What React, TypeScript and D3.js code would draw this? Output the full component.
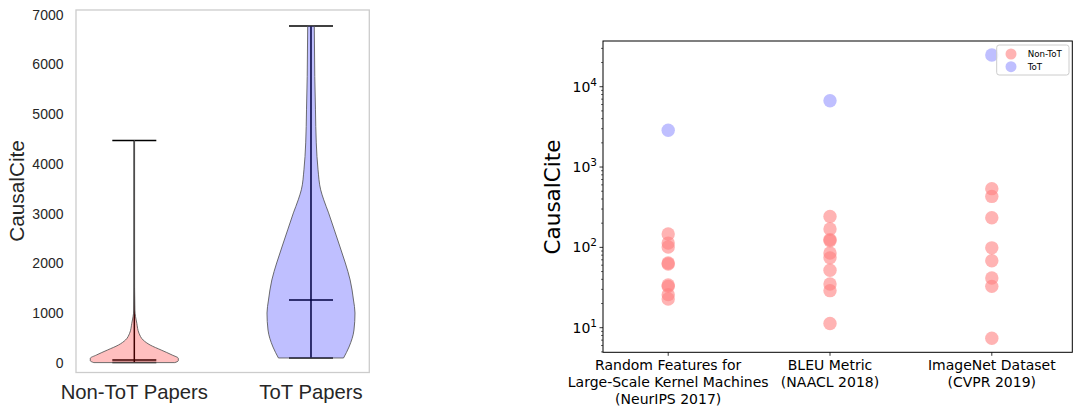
import React from "react";
import * as d3 from "d3";

// ---------- Left panel data (violin) ----------
const violinCats = ["Non-ToT Papers", "ToT Papers"];
const violinTicks = [0, 1000, 2000, 3000, 4000, 5000, 6000, 7000];
// density profiles (value, relative width)
const nonTotProfileValues = [2, 40, 88, 155, 255, 356, 457, 592, 793, 1060, 1500, 4470];
const nonTotProfileDensity = [0.92, 1.0, 1.0, 0.86, 0.61, 0.36, 0.2, 0.107, 0.057, 0.012, 0.005, 0.002];
const totProfileValues = [95, 316, 658, 1000, 1261, 1664, 2006, 2328, 2672, 3014, 3276, 3477, 3879, 4422, 5086, 5755, 6774];
const totProfileDensity = [0.74, 0.864, 0.977, 1.0, 0.966, 0.89, 0.78, 0.66, 0.53, 0.4, 0.29, 0.22, 0.16, 0.12, 0.102, 0.086, 0.075];
const violinMin = [2, 95];
const violinMedian = [54, 1261];
const violinMax = [4470, 6774];

// ---------- Right panel data (log scatter) ----------
const scatterCats = [
  ["Random Features for", "Large-Scale Kernel Machines", "(NeurIPS 2017)"],
  ["BLEU Metric", "(NAACL 2018)"],
  ["ImageNet Dataset", "(CVPR 2019)"],
];
const nonTotCat1 = [147, 113, 101, 64, 62, 34, 32.7, 25.8, 22.8];
const nonTotCat2 = [243, 169, 125, 121, 85, 74, 52, 35, 28.9, 11.3];
const nonTotCat3 = [538, 431, 234, 98.6, 68, 41.6, 32.7, 7.4];
const totValues = [2870, 6700, 24800];
const logMajorTicks = [10, 100, 1000, 10000];
const legendLabels = ["Non-ToT", "ToT"];

const W = 1074;
const H = 406;

const LEFT_FONT = "'Liberation Sans', Arial, sans-serif";
const RIGHT_FONT = "'DejaVu Sans', sans-serif";

function Violins() {
  const yL = d3.scaleLinear().domain([-197, 7095]).range([372.5, 10]);
  const xL = d3.scaleLinear().domain([-0.33, 1.33]).range([76, 369.3]);
  const wL = d3.scaleLinear().domain([0, 1]).range([0, 44]);
  const profiles = [
    nonTotProfileValues.map((v, i) => [v, nonTotProfileDensity[i]] as [number, number]),
    totProfileValues.map((v, i) => [v, totProfileDensity[i]] as [number, number]),
  ];
  const fills = ["#ff0000", "#0000ff"];
  return (
    <g fontFamily={LEFT_FONT}>
      <rect x={76} y={10} width={293.3} height={362.5} fill="none" stroke="#cccccc" strokeWidth={1.3} />
      {violinTicks.map((t) => (
        <text key={t} x={63.5} y={yL(t)} textAnchor="end" dominantBaseline="central" fontSize={14} fill="#262626">
          {t}
        </text>
      ))}
      <text
        transform={`translate(16,191) rotate(-90)`}
        textAnchor="middle"
        dominantBaseline="central"
        fontSize={20.8}
        fill="#262626"
      >
        CausalCite
      </text>
      {violinCats.map((c, i) => {
        const cx = xL(i);
        const area = d3
          .area<[number, number]>()
          .y((d) => yL(d[0]))
          .x0((d) => cx - wL(d[1]))
          .x1((d) => cx + wL(d[1]))
          .curve(d3.curveMonotoneY);
        const lw = wL(0.5);
        return (
          <g key={c}>
            <line x1={cx} x2={cx} y1={yL(violinMin[i])} y2={yL(violinMax[i])} stroke="#000" strokeWidth={1.5} />
            {[violinMin[i], violinMedian[i], violinMax[i]].map((v, k) => (
              <line key={k} x1={cx - lw} x2={cx + lw} y1={yL(v)} y2={yL(v)} stroke="#000" strokeWidth={1.5} />
            ))}
            <path d={area(profiles[i]) || ""} fill={fills[i]} fillOpacity={0.25} stroke="#555" strokeOpacity={0.85} strokeWidth={1} />
            <text x={cx} y={399} textAnchor="middle" fontSize={20.3} fill="#262626">
              {c}
            </text>
          </g>
        );
      })}
    </g>
  );
}

function Scatter() {
  const xR = d3.scaleLinear().domain([-0.403, 2.4975]).range([603, 1072.3]);
  const yR = d3.scaleLog().domain([4.94, 37070]).range([352.3, 41]);
  const [y0, y1] = yR.domain();
  const minor: number[] = [];
  for (let e = 0; e <= 4; e++) {
    for (let m = 2; m <= 9; m++) {
      const v = m * Math.pow(10, e);
      if (v >= y0 && v <= y1) minor.push(v);
    }
  }
  const nonTot = [nonTotCat1, nonTotCat2, nonTotCat3];
  const pink = "#ff8080";
  const blue = "#8080ff";
  const r = 6.7;
  return (
    <g fontFamily={RIGHT_FONT}>
      {nonTot.map((arr, i) =>
        arr.map((v, k) => <circle key={`n${i}-${k}`} cx={xR(i)} cy={yR(v)} r={r} fill={pink} fillOpacity={0.6} />)
      )}
      {totValues.map((v, i) => (
        <circle key={`t${i}`} cx={xR(i)} cy={yR(v)} r={r} fill={blue} fillOpacity={0.5} />
      ))}
      <rect x={603} y={41} width={469.3} height={311.3} fill="none" stroke="#000" strokeWidth={1} />
      {minor.map((v) => (
        <line key={`m${v}`} x1={601} x2={603} y1={yR(v)} y2={yR(v)} stroke="#000" strokeWidth={0.6} />
      ))}
      {logMajorTicks.map((v) => (
        <g key={`M${v}`}>
          <line x1={599.5} x2={603} y1={yR(v)} y2={yR(v)} stroke="#000" strokeWidth={0.8} />
          <text x={597} y={yR(v)} textAnchor="end" dominantBaseline="central" fontSize={14} fill="#000">
            10
            <tspan dy={-5} fontSize={10.5}>
              {Math.round(Math.log10(v))}
            </tspan>
          </text>
        </g>
      ))}
      {scatterCats.map((lines, i) => (
        <g key={`c${i}`}>
          <line x1={xR(i)} x2={xR(i)} y1={352.3} y2={355.8} stroke="#000" strokeWidth={0.8} />
          {lines.map((ln, k) => (
            <text key={k} x={xR(i)} y={370 + k * 17} textAnchor="middle" fontSize={14} fill="#000">
              {ln}
            </text>
          ))}
        </g>
      ))}
      <text
        transform={`translate(552,197) rotate(-90)`}
        textAnchor="middle"
        dominantBaseline="central"
        fontSize={21.5}
        fill="#000"
      >
        CausalCite
      </text>
      <g>
        <rect x={996.7} y={45} width={72.3} height={30} rx={2.5} fill="#fff" fillOpacity={0.8} stroke="#cccccc" strokeWidth={1} />
        {legendLabels.map((l, i) => (
          <g key={l}>
            <circle cx={1011} cy={54 + i * 12.7} r={5.5} fill={i === 0 ? pink : blue} fillOpacity={i === 0 ? 0.6 : 0.5} />
            <text x={1027.7} y={54 + i * 12.7} dominantBaseline="central" fontSize={8.7} fill="#000">
              {l}
            </text>
          </g>
        ))}
      </g>
    </g>
  );
}

export default function App() {
  return (
    <svg
      width={W}
      height={H}
      viewBox={`0 0 ${W} ${H}`}
      style={{ position: "absolute", left: 0, top: 0, background: "#fff" }}
    >
      <rect x={0} y={0} width={W} height={H} fill="#fff" />
      <Violins />
      <Scatter />
    </svg>
  );
}
